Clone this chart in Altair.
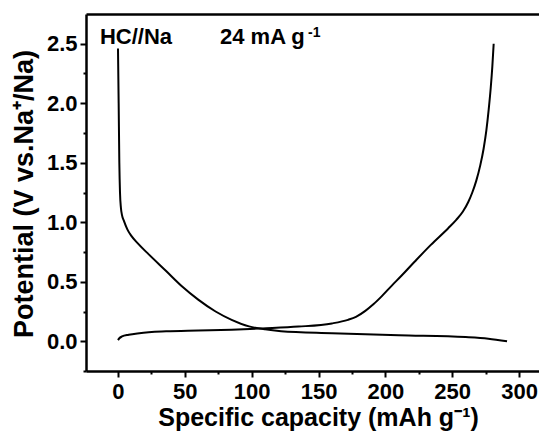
import altair as alt
import pandas as pd

# Discharge curve (sodiation)
dis_cap = [0, 0.5, 1.0, 1.5, 2.2, 3.0, 4.5, 7, 10, 15, 23, 36, 48, 60, 73, 85, 98, 110, 122, 160, 210, 260, 277, 291]
dis_v = [2.46, 2.0, 1.5, 1.25, 1.12, 1.06, 1.01, 0.94, 0.885, 0.82, 0.73, 0.59, 0.46, 0.35, 0.25, 0.18, 0.125,
         0.10, 0.085, 0.068, 0.05, 0.035, 0.022, 0.0]

# Charge curve (desodiation)
ch_cap = [0, 1, 3, 8, 16, 36, 60, 85, 108, 135, 160, 172, 178, 185, 191, 197, 205, 212, 222, 234, 247,
          253, 258, 262, 265, 268, 271, 273.5, 275.5, 277.3, 278.8, 280, 281]
ch_v = [0.01, 0.025, 0.04, 0.055, 0.068, 0.083, 0.09, 0.097, 0.108, 0.123, 0.15, 0.18, 0.205, 0.255, 0.31,
        0.375, 0.47, 0.55, 0.67, 0.81, 0.95, 1.02, 1.09, 1.17, 1.25, 1.35, 1.48, 1.62, 1.77, 1.95, 2.13,
        2.31, 2.5]

x_major = [0, 50, 100, 150, 200, 250, 300]
x_minor = [25, 75, 125, 175, 225, 275]
y_major = [0.0, 0.5, 1.0, 1.5, 2.0, 2.5]
y_minor = [-0.25, 0.25, 0.75, 1.25, 1.75, 2.25]

ann_text = ["HC//Na", "24 mA g", "-1"]
ann_x = [-13.5, 76.3, 142.1]
ann_y = [2.50, 2.50, 2.557]
ann_size = [22, 22, 14]

df = pd.DataFrame({
    "cap": dis_cap + ch_cap,
    "v": dis_v + ch_v,
    "curve": ["discharge"] * len(dis_cap) + ["charge"] * len(ch_cap),
    "order": list(range(len(dis_cap))) + list(range(len(ch_cap))),
})
ann = pd.DataFrame({"t": ann_text, "x": ann_x, "y": ann_y, "s": ann_size})

FONT = "Liberation Sans"
xscale = alt.Scale(domain=[-23.93, 314.9], nice=False, zero=False)
yscale = alt.Scale(domain=[-0.25, 2.75], nice=False, zero=False)

xaxis = alt.Axis(
    orient="bottom", values=x_major, format="d",
    tickSize=6, tickWidth=2, tickColor="black", domainWidth=2.5, domainColor="black",
    labelFont=FONT, labelFontSize=22, labelFontWeight="bold", labelColor="black",
    labelPadding=4, labelFlush=False, labelOverlap=False,
    grid=False,
    title="Specific capacity (mAh g⁻¹)", titleFont=FONT, titleFontSize=25,
    titleFontWeight="bold", titleColor="black", titleBaseline="alphabetic",
    titleAlign="center", titleAnchor="start", titleY=54, titleX=232,
)
yaxis = alt.Axis(
    orient="left", values=y_major, format=".1f",
    tickSize=6, tickWidth=2, tickColor="black", domainWidth=2.5, domainColor="black",
    labelFont=FONT, labelFontSize=22, labelFontWeight="bold", labelColor="black",
    labelPadding=3, labelFlush=False, labelOverlap=False,
    grid=False,
    title="Potential (V vs.Na⁺/Na)", titleFont=FONT, titleFontSize=27,
    titleFontWeight="bold", titleColor="black", titleAngle=270,
    titleBaseline="alphabetic", titleAlign="center", titleX=-54, titleY=179.5,
)

lines = alt.Chart(df).mark_line(color="black", strokeWidth=2, interpolate="monotone").encode(
    x=alt.X("cap:Q", scale=xscale, axis=xaxis),
    y=alt.Y("v:Q", scale=yscale, axis=yaxis),
    detail="curve:N",
    order="order:Q",
)

minor = alt.Chart(df).mark_point(opacity=0).encode(
    x=alt.X("cap:Q", scale=xscale,
            axis=alt.Axis(orient="bottom", values=x_minor, labels=False, domain=False, grid=False,
                          title=None, tickSize=3, tickWidth=2, tickColor="black")),
    y=alt.Y("v:Q", scale=yscale,
            axis=alt.Axis(orient="left", values=y_minor, labels=False, domain=False, grid=False,
                          title=None, tickSize=3, tickWidth=2, tickColor="black")),
)

top = alt.Chart(df).mark_point(opacity=0).encode(
    x=alt.X("cap:Q", scale=xscale,
            axis=alt.Axis(orient="top", labels=False, ticks=False, title=None, grid=False,
                          domainWidth=2.5, domainColor="black")),
    y=alt.Y("v:Q", scale=yscale, axis=None),
)

texts = alt.Chart(ann).mark_text(
    font=FONT, fontWeight="bold", color="black", align="left", baseline="alphabetic"
).encode(
    x=alt.X("x:Q", scale=xscale, axis=None),
    y=alt.Y("y:Q", scale=yscale, axis=None),
    text="t:N",
    size=alt.Size("s:Q", scale=None, legend=None),
)

chart = alt.layer(lines, minor, top, texts).resolve_axis(x="independent", y="independent").properties(
    width=453, height=357,
    autosize=alt.AutoSizeParams(type="none"),
    padding={"left": 78, "top": 6, "right": 0, "bottom": 60},
).configure_view(stroke=None)

chart.save("out.html", embed_options={"renderer": "svg", "actions": False})
